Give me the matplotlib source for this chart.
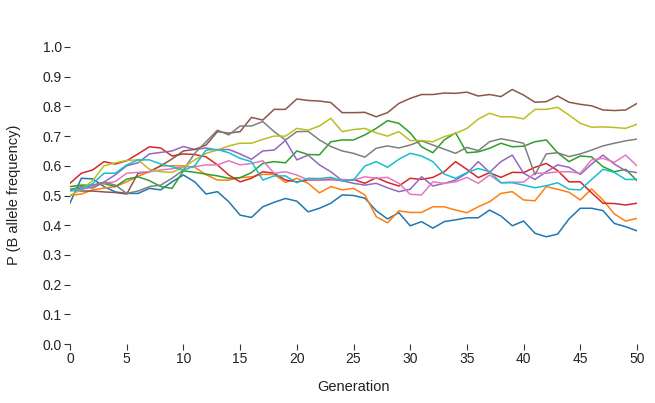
import numpy as np
import matplotlib.pyplot as plt

plt.rcParams['font.family'] = ['Liberation Sans', 'DejaVu Sans']

generations = np.arange(0, 51)

blue = [0.475, 0.558, 0.556, 0.53, 0.512, 0.507, 0.507, 0.524, 0.519, 0.546, 0.569, 0.546, 0.505,
        0.513, 0.479, 0.434, 0.426, 0.462, 0.477, 0.490, 0.481, 0.445, 0.457, 0.474, 0.502,
        0.50, 0.491, 0.449, 0.421, 0.442, 0.398, 0.412, 0.390, 0.412, 0.418, 0.425, 0.425,
        0.451, 0.431, 0.398, 0.414, 0.373, 0.361, 0.370, 0.421, 0.457, 0.457, 0.449, 0.406, 0.395, 0.381]
orange = [0.50, 0.505, 0.519, 0.525, 0.53, 0.546, 0.565, 0.58, 0.60, 0.60, 0.60, 0.595, 0.57,
          0.552, 0.552, 0.560, 0.563, 0.571, 0.571, 0.544, 0.558, 0.541, 0.509, 0.530, 0.519,
          0.524, 0.502, 0.429, 0.408, 0.448, 0.443, 0.443, 0.462, 0.462, 0.451, 0.442, 0.462, 0.479,
          0.507, 0.513, 0.485, 0.482, 0.530, 0.521, 0.511, 0.485, 0.522, 0.485, 0.438, 0.414, 0.423]
green = [0.53, 0.535, 0.535, 0.54, 0.53, 0.555, 0.563, 0.55, 0.53, 0.524, 0.583, 0.578, 0.572,
         0.566, 0.558, 0.56, 0.577, 0.608, 0.614, 0.61, 0.65, 0.638, 0.637, 0.681, 0.687,
         0.687, 0.704, 0.726, 0.752, 0.743, 0.711, 0.664, 0.644, 0.687, 0.711, 0.644, 0.647, 0.659,
         0.676, 0.664, 0.666, 0.681, 0.687, 0.644, 0.614, 0.633, 0.63, 0.597, 0.58, 0.588, 0.55]
red = [0.541, 0.575, 0.586, 0.614, 0.606, 0.617, 0.64, 0.664, 0.66, 0.633, 0.64, 0.638, 0.63,
       0.603, 0.569, 0.546, 0.558, 0.58, 0.575, 0.552, 0.546, 0.552, 0.552, 0.555, 0.55,
       0.554, 0.541, 0.56, 0.544, 0.532, 0.558, 0.554, 0.561, 0.58, 0.614, 0.588, 0.56,
       0.577, 0.561, 0.578, 0.577, 0.595, 0.608, 0.584, 0.546, 0.546, 0.509, 0.474, 0.473, 0.468, 0.474]
purple = [0.52, 0.525, 0.535, 0.545, 0.57, 0.60, 0.61, 0.64, 0.645, 0.65, 0.665, 0.655, 0.66,
          0.653, 0.655, 0.64, 0.622, 0.65, 0.653, 0.685, 0.62, 0.636, 0.603, 0.58, 0.55,
          0.541, 0.535, 0.541, 0.526, 0.513, 0.521, 0.563, 0.532, 0.541, 0.552, 0.575, 0.614,
          0.578, 0.614, 0.636, 0.575, 0.554, 0.58, 0.603, 0.595, 0.571, 0.606, 0.636, 0.606, 0.583, 0.577]
brown = [0.52, 0.515, 0.515, 0.512, 0.51, 0.505, 0.575, 0.58, 0.6, 0.623, 0.65, 0.655, 0.67,
         0.715, 0.71, 0.715, 0.763, 0.754, 0.79, 0.79, 0.825, 0.82, 0.818, 0.813, 0.779,
         0.779, 0.78, 0.765, 0.779, 0.81, 0.827, 0.84, 0.84, 0.845, 0.844, 0.848, 0.835, 0.84,
         0.833, 0.857, 0.838, 0.814, 0.816, 0.835, 0.814, 0.807, 0.802, 0.788, 0.786, 0.788, 0.81]
pink = [0.52, 0.52, 0.53, 0.541, 0.547, 0.575, 0.578, 0.58, 0.586, 0.59, 0.597, 0.597, 0.603,
        0.603, 0.617, 0.603, 0.608, 0.617, 0.575, 0.58, 0.569, 0.552, 0.552, 0.552, 0.554,
        0.552, 0.563, 0.558, 0.561, 0.541, 0.504, 0.502, 0.546, 0.541, 0.546, 0.561, 0.541, 0.569,
        0.543, 0.545, 0.545, 0.575, 0.575, 0.58, 0.58, 0.575, 0.62, 0.625, 0.612, 0.636, 0.60]
gray = [0.52, 0.53, 0.525, 0.545, 0.535, 0.507, 0.515, 0.53, 0.535, 0.558, 0.586, 0.642, 0.681,
        0.72, 0.704, 0.734, 0.734, 0.749, 0.715, 0.687, 0.715, 0.716, 0.687, 0.665, 0.65,
        0.642, 0.629, 0.659, 0.667, 0.66, 0.670, 0.684, 0.67, 0.656, 0.642, 0.662, 0.651, 0.681,
        0.691, 0.684, 0.676, 0.57, 0.64, 0.644, 0.631, 0.64, 0.653, 0.667, 0.676, 0.684, 0.69]
olive = [0.50, 0.52, 0.55, 0.60, 0.61, 0.618, 0.62, 0.588, 0.58, 0.578, 0.595, 0.62, 0.642,
         0.653, 0.667, 0.676, 0.676, 0.689, 0.70, 0.70, 0.726, 0.72, 0.734, 0.76, 0.715,
         0.722, 0.726, 0.711, 0.70, 0.715, 0.685, 0.685, 0.681, 0.698, 0.709, 0.726, 0.757, 0.777,
         0.765, 0.765, 0.758, 0.79, 0.79, 0.797, 0.771, 0.743, 0.73, 0.731, 0.729, 0.726, 0.74]
cyan = [0.515, 0.52, 0.54, 0.575, 0.575, 0.603, 0.62, 0.62, 0.606, 0.597, 0.585, 0.60, 0.653,
        0.655, 0.644, 0.625, 0.614, 0.552, 0.566, 0.566, 0.543, 0.558, 0.557, 0.561, 0.55,
        0.552, 0.599, 0.614, 0.595, 0.622, 0.642, 0.633, 0.614, 0.572, 0.558, 0.577, 0.591, 0.58,
        0.543, 0.543, 0.535, 0.526, 0.533, 0.543, 0.521, 0.519, 0.554, 0.588, 0.578, 0.554, 0.554]

series = [blue, orange, green, red, purple, brown, pink, gray, olive, cyan]
colors = ['#1f77b4', '#ff7f0e', '#2ca02c', '#d62728', '#9467bd',
          '#8c564b', '#e377c2', '#7f7f7f', '#bcbd22', '#17becf']

fig = plt.figure(figsize=(6.55, 4.03), dpi=100)
ax = fig.add_axes([70/655, 1 - 344/403, 567/655, 297/403])

for vals, c in zip(series, colors):
    ax.plot(generations, vals, color=c, lw=1.1)

ax.set_xlim(0, 50)
ax.set_ylim(0, 1)
ax.set_xticks(np.arange(0, 51, 5))
ax.set_yticks(np.arange(0, 1.01, 0.1))
ax.set_yticklabels([f"{v:.1f}" for v in np.arange(0, 1.01, 0.1)])
for s in ax.spines.values():
    s.set_visible(False)
ax.tick_params(length=4, width=0.8, color='#333333', labelsize=10, labelcolor='#222222', pad=2)

fig.text(14/655, 1 - 195/403, "P (B allele frequency)", rotation=90,
         ha='center', va='center', fontsize=10.5, color='#222222')
fig.text(353/655, 1 - 387/403, "Generation", ha='center', va='center',
         fontsize=10.5, color='#222222')

fig.savefig("out.png", dpi=100)
